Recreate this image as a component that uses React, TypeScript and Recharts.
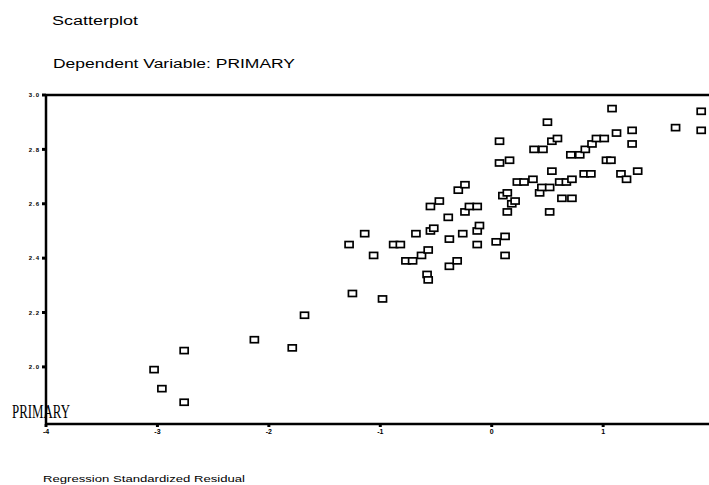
import { ScatterChart, Scatter, XAxis, YAxis, ReferenceLine } from 'recharts';

const residuals = [
  -3.03, -2.96, -2.76, -2.76, -2.13, -1.79, -1.68, -1.25, -0.98, -1.28,
  -1.14, -1.06, -0.88, -0.82, -0.77, -0.71, -0.68, -0.63, -0.57, -0.58,
  -0.57, -0.55, -0.52, -0.55, -0.47, -0.39, -0.38, -0.38, -0.31, -0.30,
  -0.24, -0.26, -0.24, -0.20, -0.13, -0.13, -0.11, -0.13, 0.04, 0.12,
  0.12, 0.07, 0.07, 0.16, 0.10, 0.14, 0.18, 0.21, 0.14, 0.23,
  0.29, 0.37, 0.43, 0.45, 0.52, 0.61, 0.67, 0.72, 0.63, 0.72,
  0.52, 0.54, 0.50, 0.38, 0.46, 0.54, 0.59, 0.71, 0.79, 0.84,
  0.90, 0.94, 1.01, 0.83, 0.89, 1.03, 1.07, 1.08, 1.12, 1.26,
  1.26, 1.16, 1.21, 1.31, 1.65, 1.88, 1.88,
];

const primary = [
  1.99, 1.92, 1.87, 2.06, 2.10, 2.07, 2.19, 2.27, 2.25, 2.45,
  2.49, 2.41, 2.45, 2.45, 2.39, 2.39, 2.49, 2.41, 2.43, 2.34,
  2.32, 2.50, 2.51, 2.59, 2.61, 2.55, 2.47, 2.37, 2.39, 2.65,
  2.67, 2.49, 2.57, 2.59, 2.59, 2.50, 2.52, 2.45, 2.46, 2.48,
  2.41, 2.83, 2.75, 2.76, 2.63, 2.64, 2.60, 2.61, 2.57, 2.68,
  2.68, 2.69, 2.64, 2.66, 2.66, 2.68, 2.68, 2.69, 2.62, 2.62,
  2.57, 2.72, 2.90, 2.80, 2.80, 2.83, 2.84, 2.78, 2.78, 2.80,
  2.82, 2.84, 2.84, 2.71, 2.71, 2.76, 2.76, 2.95, 2.86, 2.87,
  2.82, 2.71, 2.69, 2.72, 2.88, 2.94, 2.87,
];

const xTicks = [-4, -3, -2, -1, 0, 1];
const yTicks = [2.0, 2.2, 2.4, 2.6, 2.8, 3.0];

const points = residuals.map((x, i) => ({ x, y: primary[i] }));

const font = 'Arial, "Liberation Sans", sans-serif';

function Box(props: any) {
  const { cx, cy } = props;
  return <rect x={cx - 4} y={cy - 3} width={8} height={6} fill="#fff" stroke="#000" strokeWidth={1.7} />;
}

export default function App() {
  return (
    <div style={{ position: 'absolute', left: 0, top: 0, width: 709, height: 485, background: '#fff' }}>
      <ScatterChart width={709} height={485} margin={{ top: 95, right: 0, left: 16, bottom: 41 }}>
        <XAxis
          type="number"
          dataKey="x"
          domain={[-4, 1.95]}
          ticks={xTicks}
          allowDataOverflow
          height={20}
          axisLine={{ stroke: '#000', strokeWidth: 2.5 }}
          tickLine={{ stroke: '#000', strokeWidth: 3 }}
          tickSize={3}
          tick={{ fill: '#000', fontSize: 7, fontWeight: 'bold', fontFamily: font }}
        />
        <YAxis
          type="number"
          dataKey="y"
          domain={[1.79, 3.0]}
          ticks={yTicks}
          allowDataOverflow
          width={30}
          axisLine={{ stroke: '#000', strokeWidth: 2.5 }}
          tickLine={{ stroke: '#000', strokeWidth: 3 }}
          tickSize={4}
          tickFormatter={(v: number) => v.toFixed(1)}
          tick={{ fill: '#000', fontSize: 6, fontWeight: 'bold', fontFamily: font, letterSpacing: 1 }}
        />
        <ReferenceLine y={3.0} stroke="#000" strokeWidth={2.5} />
        <Scatter data={points} shape={Box} isAnimationActive={false} />
      </ScatterChart>
      <svg width={709} height={485} style={{ position: 'absolute', left: 0, top: 0, pointerEvents: 'none' }}>
        <text x={52} y={25} fontFamily={font} fontSize={12} textLength={86} lengthAdjust="spacingAndGlyphs" fill="#000">
          Scatterplot
        </text>
        <text x={53} y={68} fontFamily={font} fontSize={12} textLength={242} lengthAdjust="spacingAndGlyphs" fill="#000">
          Dependent Variable: PRIMARY
        </text>
        <text x={43} y={482} fontFamily={font} fontSize={9} textLength={202} lengthAdjust="spacingAndGlyphs" fill="#000">
          Regression Standardized Residual
        </text>
        <text x={12} y={418} fontFamily='"Liberation Serif", "DejaVu Serif", serif' fontSize={19} textLength={58} lengthAdjust="spacingAndGlyphs" fill="#000">
          PRIMARY
        </text>
      </svg>
    </div>
  );
}
